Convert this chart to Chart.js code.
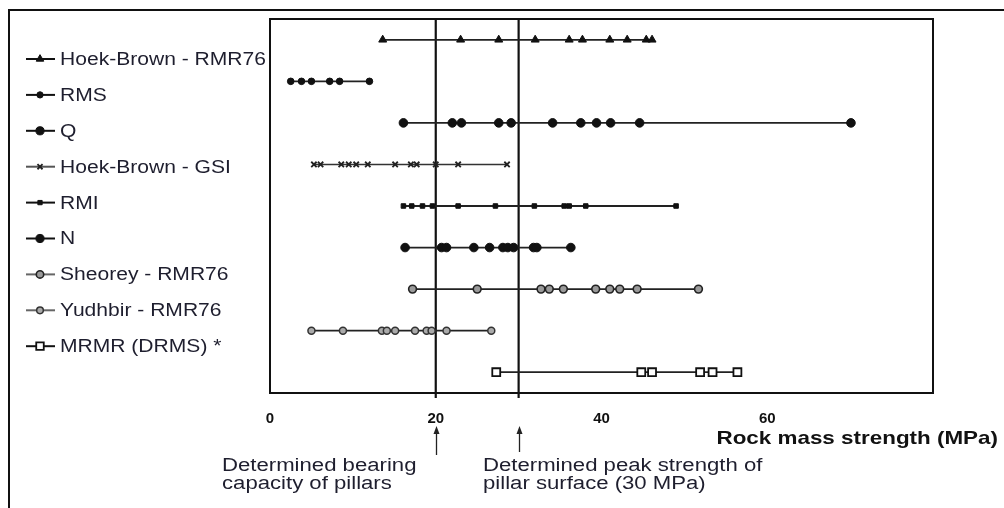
<!DOCTYPE html>
<html><head><meta charset="utf-8">
<script src="https://cdn.jsdelivr.net/npm/chart.js@4/dist/chart.umd.min.js"></script>
<style>html,body{margin:0;padding:0;background:#fff;overflow:hidden}canvas{display:block}</style>
</head><body>
<canvas id="c" width="1004" height="508"></canvas>
<script>
// ---- data (MPa) ----
const methods = ['Hoek-Brown - RMR76','RMS','Q','Hoek-Brown - GSI','RMI','N','Sheorey - RMR76','Yudhbir - RMR76','MRMR (DRMS) *'];
const hoekBrownRMR76 = [13.6, 23.0, 27.6, 32.0, 36.1, 37.7, 41.0, 43.1, 45.4, 46.1];
const rms = [2.5, 3.8, 5.0, 7.2, 8.4, 12.0];
const q = [16.1, 22.0, 23.1, 27.6, 29.1, 34.1, 37.5, 39.4, 41.1, 44.6, 70.1];
const hoekBrownGSI = [5.3, 6.1, 8.6, 9.5, 10.4, 11.8, 15.1, 17.0, 17.7, 20.0, 22.7, 28.6];
const rmi = [16.1, 17.1, 18.4, 19.6, 22.7, 27.2, 31.9, 35.5, 36.1, 38.1, 49.0];
const nValues = [16.3, 20.7, 21.3, 24.6, 26.5, 28.1, 28.7, 29.4, 31.8, 32.2, 36.3];
const sheorey = [17.2, 25.0, 32.7, 33.7, 35.4, 39.3, 41.0, 42.2, 44.3, 51.7];
const yudhbir = [5.0, 8.8, 13.5, 14.1, 15.1, 17.5, 18.9, 19.5, 21.3, 26.7];
const mrmr = [27.3, 44.8, 46.1, 51.9, 53.4, 56.4];
const bearingCapacity = 20;   // MPa
const peakStrength = 30;      // MPa
const xTickLabels = [0, 20, 40, 60];
const axisTitle = 'Rock mass strength (MPa)';
const noteBearing = ['Determined bearing', 'capacity of pillars'];
const notePeak = ['Determined peak strength of', 'pillar surface (30 MPa)'];

const seriesValues = [hoekBrownRMR76, rms, q, hoekBrownGSI, rmi, nValues, sheorey, yudhbir, mrmr];

// ---- styles ----
const styles = [
  {pointStyle:'triangle', radius:4.6, fill:'#111', stroke:'#111', bw:1,   line:'#222', lw:1.8, legendLine:'#111'},
  {pointStyle:'circle',   radius:3.3, fill:'#111', stroke:'#111', bw:1,   line:'#222', lw:1.8, legendLine:'#111'},
  {pointStyle:'circle',   radius:4.3, fill:'#111', stroke:'#111', bw:1,   line:'#222', lw:1.8, legendLine:'#111'},
  {pointStyle:'crossRot', radius:3.8, fill:'#222', stroke:'#222', bw:1.8, line:'#333', lw:1.5, legendLine:'#555'},
  {pointStyle:'rect',     radius:3.2, fill:'#111', stroke:'#111', bw:1,   line:'#222', lw:1.8, legendLine:'#111'},
  {pointStyle:'circle',   radius:4.3, fill:'#111', stroke:'#111', bw:1,   line:'#222', lw:1.8, legendLine:'#111'},
  {pointStyle:'circle',   radius:3.9, fill:'#9a9a9a', stroke:'#222', bw:1.6, line:'#222', lw:1.8, legendLine:'#666'},
  {pointStyle:'circle',   radius:3.5, fill:'#aaa', stroke:'#333', bw:1.5, line:'#222', lw:1.8, legendLine:'#666'},
  {pointStyle:'rect',     radius:5.6, fill:'#fff', stroke:'#111', bw:1.8, line:'#222', lw:1.8, legendLine:'#111'}
];

const datasets = seriesValues.map((vals, i) => ({
  label: methods[i],
  data: vals.map(v => ({x: v, y: i + 1})),
  showLine: true,
  borderColor: styles[i].line,
  borderWidth: styles[i].lw,
  pointStyle: styles[i].pointStyle,
  pointRadius: styles[i].radius,
  pointBackgroundColor: styles[i].fill,
  pointBorderColor: styles[i].stroke,
  pointBorderWidth: styles[i].bw,
  order: 1
}));
[bearingCapacity, peakStrength].forEach(v => datasets.push({
  label: 'ref' + v,
  data: [{x: v, y: 0.5}, {x: v, y: 9.62}],
  showLine: true, borderColor: '#111', borderWidth: 2.2, pointRadius: 0, clip: false, order: 10
}));

const FONT = "'Liberation Sans', Arial, Helvetica, sans-serif";
function sText(ctx, s, x, y, sx) {
  ctx.save(); ctx.translate(x, y); ctx.scale(sx, 1); ctx.fillText(s, 0, 0); ctx.restore();
}

const decor = {
  id: 'decor',
  beforeDraw(chart) {
    const ctx = chart.ctx;
    ctx.save(); ctx.fillStyle = '#fff'; ctx.fillRect(0, 0, chart.width, chart.height); ctx.restore();
  },
  afterDraw(chart) {
    const {ctx, chartArea: a, scales: {x}} = chart;
    ctx.save();
    // outer frame
    ctx.strokeStyle = '#111'; ctx.lineWidth = 2;
    ctx.beginPath(); ctx.moveTo(9, chart.height); ctx.lineTo(9, 10); ctx.lineTo(chart.width, 10); ctx.stroke();
    // plot frame
    ctx.strokeRect(a.left, a.top, a.right - a.left, a.bottom - a.top);

    // legend
    const y0 = 59, step = 35.9;
    ctx.textBaseline = 'middle'; ctx.textAlign = 'left';
    ctx.font = '18px ' + FONT;
    methods.forEach((m, i) => {
      const st = styles[i], y = y0 + i * step;
      ctx.strokeStyle = st.legendLine; ctx.lineWidth = 2;
      ctx.beginPath(); ctx.moveTo(26, y); ctx.lineTo(55, y); ctx.stroke();
      ctx.fillStyle = st.fill; ctx.strokeStyle = st.stroke; ctx.lineWidth = st.bw;
      Chart.helpers.drawPoint(ctx, {pointStyle: st.pointStyle, radius: st.radius * 0.95, borderWidth: st.bw, rotation: 0}, 40, y);
      ctx.fillStyle = '#1e1e2e';
      sText(ctx, m, 60, y + 1, 1.17);
    });

    // axis title (right-aligned near the canvas edge)
    ctx.font = 'bold 19px ' + FONT; ctx.textBaseline = 'middle'; ctx.textAlign = 'left'; ctx.fillStyle = '#111';
    const tw = ctx.measureText(axisTitle).width * 1.18;
    sText(ctx, axisTitle, 998 - tw, 439, 1.18);

    // arrows
    ctx.strokeStyle = '#222'; ctx.fillStyle = '#222'; ctx.lineWidth = 1.3;
    [[bearingCapacity, 455], [peakStrength, 452]].forEach(([v, yb]) => {
      const px = Math.round(x.getPixelForValue(v)) + 0.5;
      ctx.beginPath(); ctx.moveTo(px, yb); ctx.lineTo(px, 431); ctx.stroke();
      ctx.beginPath(); ctx.moveTo(px, 426); ctx.lineTo(px - 3, 434); ctx.lineTo(px + 3, 434); ctx.closePath(); ctx.fill();
    });

    // annotations
    ctx.font = '18px ' + FONT; ctx.textBaseline = 'middle'; ctx.textAlign = 'left'; ctx.fillStyle = '#1e1e2e';
    noteBearing.forEach((s, i) => sText(ctx, s, 222, 466 + i * 18.5, 1.23));
    notePeak.forEach((s, i) => sText(ctx, s, 483, 466 + i * 18.5, 1.23));
    ctx.restore();
  }
};

new Chart(document.getElementById('c'), {
  type: 'scatter',
  data: {datasets},
  options: {
    responsive: false, animation: false, devicePixelRatio: 1,
    layout: {padding: {left: 270, top: 19, right: 71, bottom: 75}},
    plugins: {legend: {display: false}, tooltip: {enabled: false}},
    scales: {
      x: {
        type: 'linear', min: 0, max: 80, position: 'bottom',
        border: {display: false}, grid: {display: false, drawTicks: false},
        ticks: {
          stepSize: 20, padding: 17, color: '#111', autoSkip: false, maxRotation: 0,
          font: {family: FONT, size: 15, weight: 'bold'},
          callback: v => xTickLabels.includes(v) ? String(v) : ''
        },
        afterFit(s) { s.height = 40; }
      },
      y: {type: 'linear', min: 0.5, max: 9.5, reverse: true, display: false}
    }
  },
  plugins: [decor]
});
</script>
</body></html>
